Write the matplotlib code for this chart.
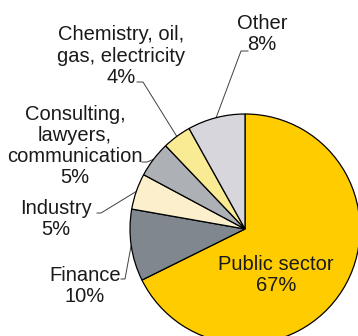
import numpy as np
import matplotlib
matplotlib.use("Agg")
import matplotlib.pyplot as plt

plt.rcParams["font.family"] = ["Liberation Sans", "DejaVu Sans"]

# data
sectors = ["Public sector", "Finance", "Industry",
           "Consulting,\nlawyers,\ncommunication", "Chemistry, oil,\ngas, electricity", "Other"]
shares = [67, 10, 5, 5, 4, 8]
colors = ["#FFCC00", "#80878E", "#FCF0CC", "#ADB1B5", "#F9EB94", "#D6D6DC"]

W, H = 358, 336
CX, CY, R = 245, H - 229, 115

fig = plt.figure(figsize=(W / 100, H / 100), dpi=100)
ax = fig.add_axes([0, 0, 1, 1])

wedges, _ = ax.pie(shares, colors=colors, startangle=90, counterclock=False,
                   center=(CX, CY), radius=R, frame=True,
                   wedgeprops=dict(edgecolor="black", linewidth=0.9))
ax.set_xlim(0, W)
ax.set_ylim(0, H)
ax.set_aspect("equal")
ax.axis("off")

txt = dict(fontsize=14.5, color="#1a1a1a", ha="center", va="center", linespacing=1.15)

# label layout: text centre, elbow point, dash end (pixel coords, y from top)
layout = {
    "Finance": ((85, 286), (125, 279), (121, 279)),
    "Industry": ((56, 219), (101, 213), (97, 213)),
    "Consulting,\nlawyers,\ncommunication": ((75, 146), (147, 162), (142, 162)),
    "Chemistry, oil,\ngas, electricity": ((121, 56), (143, 82), (137, 82)),
    "Other": ((262, 34), (241, 51), (248, 51)),
}

for w, name, pct in zip(wedges, sectors, shares):
    label = f"{name}\n{pct}%"
    if name == "Public sector":
        ax.text(276, H - 275, label, **txt)
        continue
    (tx, ty), (ex, ey), (dx, dy) = layout[name]
    ax.text(tx, H - ty, label, **txt)
    mid = np.deg2rad((w.theta1 + w.theta2) / 2)
    px, py = CX + R * np.cos(mid), CY + R * np.sin(mid)
    ax.plot([dx, ex, px], [H - dy, H - ey, py], color="#404040", lw=0.7,
            solid_joinstyle="miter", zorder=0)

fig.savefig("out.png", dpi=100)
